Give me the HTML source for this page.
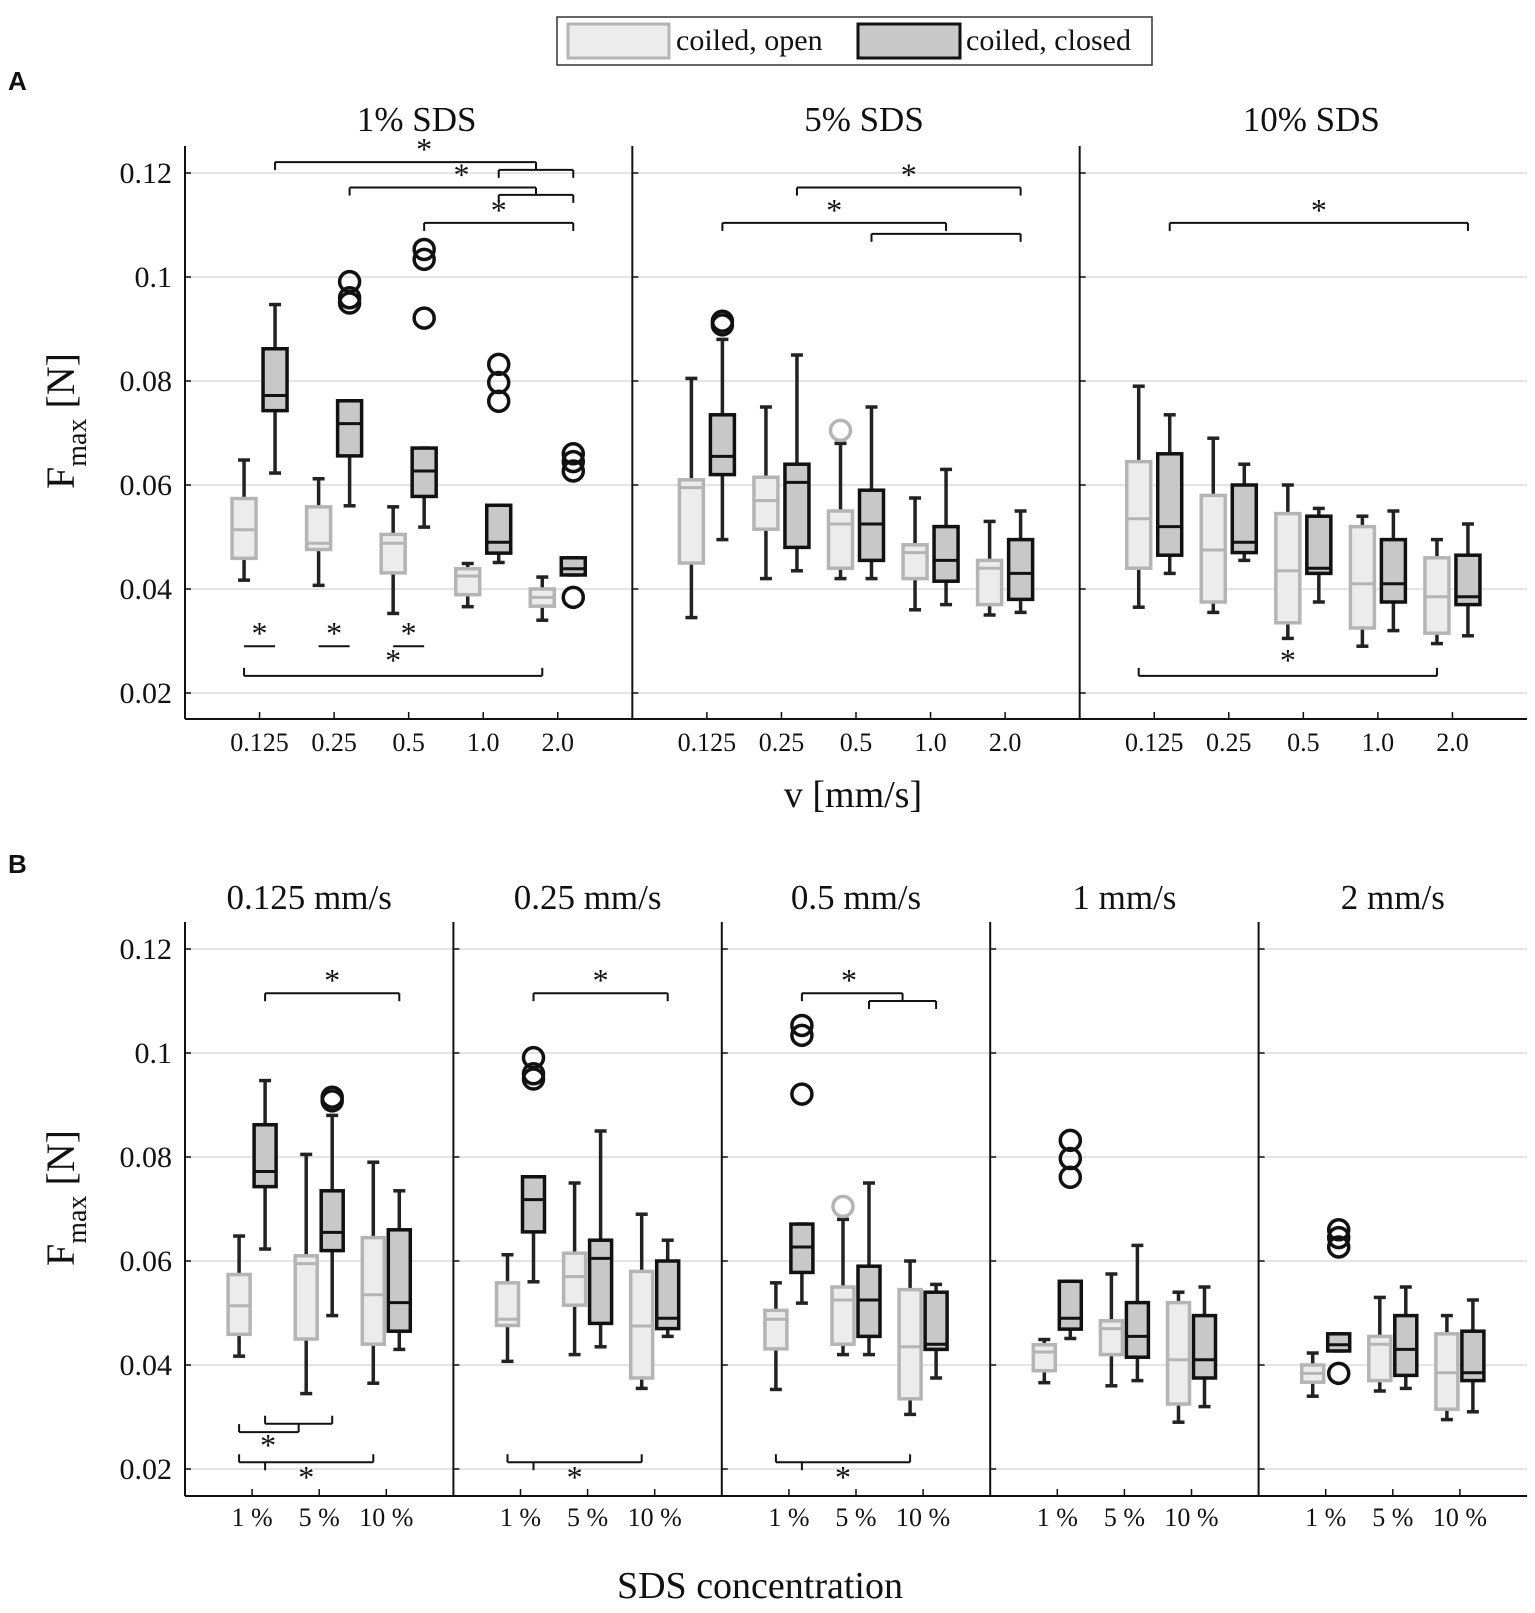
<!DOCTYPE html>
<html><head><meta charset="utf-8">
<style>
html,body{margin:0;padding:0;background:#fff;}
svg{display:block;}
text{font-family:"Liberation Serif",serif;fill:#111;}
.sans{font-family:"Liberation Sans",sans-serif;font-weight:bold;}
</style></head>
<body>
<svg id="chart" width="1535" height="1613" viewBox="0 0 1535 1613" xmlns="http://www.w3.org/2000/svg">
<g>
<rect x="557" y="17" width="595" height="48" fill="#fff" stroke="#333" stroke-width="1.5"/>
<rect x="568" y="24" width="101" height="34" fill="#ececec" stroke="#b4b4b4" stroke-width="3"/>
<text x="676" y="50" font-size="30">coiled, open</text>
<rect x="858" y="24" width="102" height="34" fill="#c8c8c8" stroke="#111" stroke-width="3"/>
<text x="966" y="50" font-size="30">coiled, closed</text>
</g>
<text class="sans" x="8" y="90" font-size="26">A</text>
<text class="sans" x="8" y="873" font-size="26">B</text>
<g id="plots"></g>
</svg>
<script>
// ---- data ----
const speeds = ["0.125","0.25","0.5","1.0","2.0"];
const sdsLevels = ["1%","5%","10%"];
const sdsTick = ["1 %","5 %","10 %"];
const speedTitles = ["0.125 mm/s","0.25 mm/s","0.5 mm/s","1 mm/s","2 mm/s"];
const yTicks = [0.02,0.04,0.06,0.08,0.1,0.12];
const yTickLabels = ["0.02","0.04","0.06","0.08","0.1","0.12"];
// stats [whiskerLow, q1, median, q3, whiskerHigh], index [sds][speed]
const openStats = [
 [[0.0417,0.0459,0.0514,0.0574,0.0648],[0.0407,0.0476,0.0488,0.0558,0.0612],[0.0353,0.0431,0.0488,0.0505,0.0558],[0.0366,0.0389,0.0425,0.0439,0.0449],[0.034,0.0367,0.0384,0.040,0.0423]],
 [[0.0345,0.045,0.0595,0.061,0.0805],[0.042,0.0515,0.057,0.0615,0.075],[0.042,0.044,0.0525,0.055,0.068],[0.036,0.042,0.047,0.0485,0.0575],[0.035,0.037,0.044,0.0455,0.053]],
 [[0.0365,0.044,0.0535,0.0645,0.079],[0.0355,0.0375,0.0475,0.058,0.069],[0.0305,0.0335,0.0435,0.0545,0.060],[0.029,0.0325,0.041,0.052,0.054],[0.0295,0.0315,0.0385,0.046,0.0495]]
];
const closedStats = [
 [[0.0623,0.0743,0.0772,0.0862,0.0947],[0.056,0.0656,0.0718,0.0762,0.0762],[0.0519,0.0578,0.0627,0.0671,0.0671],[0.0451,0.0469,0.049,0.0561,0.0561],[0.0427,0.0427,0.0439,0.046,0.046]],
 [[0.0495,0.062,0.0655,0.0735,0.088],[0.0435,0.048,0.0605,0.064,0.085],[0.042,0.0455,0.0525,0.059,0.075],[0.037,0.0415,0.0455,0.052,0.063],[0.0355,0.038,0.043,0.0495,0.055]],
 [[0.043,0.0465,0.052,0.066,0.0735],[0.0455,0.047,0.049,0.060,0.064],[0.0375,0.043,0.044,0.054,0.0555],[0.032,0.0375,0.041,0.0495,0.055],[0.031,0.037,0.0385,0.0465,0.0525]]
];
const openOutliers = [[[],[],[],[],[]],[[],[],[0.0705],[],[]],[[],[],[],[],[]]];
const closedOutliers = [
 [[],[0.0991,0.096,0.095],[0.1053,0.1034,0.0921],[0.0832,0.0797,0.0761],[0.066,0.0645,0.0627,0.0384]],
 [[0.0915,0.0908],[],[],[],[]],
 [[],[],[],[],[]]
];

// ---- geometry ----
const NS="http://www.w3.org/2000/svg";
const root=document.getElementById('plots');
const L=185,R=1527;
function yA(v){return 693-(v-0.02)*5200;}
function yB(v){return 1469-(v-0.02)*5200;}
function mk(tag,attrs,parent){const e=document.createElementNS(NS,tag);for(const k in attrs)e.setAttribute(k,attrs[k]);(parent||root).appendChild(e);return e;}
function txt(s,attrs,parent){const e=mk('text',attrs,parent);e.textContent=s;return e;}

function drawBox(g,cx,w,st,yf,closed,outs,name){
  const bg=mk('g',{},g);
  
  
  const wc='#222';
  const ln=mk('line',{x1:cx,x2:cx,y1:yf(st[0]),y2:yf(st[4]),stroke:wc,'stroke-width':3.5},bg);
  
  
  [st[0],st[4]].forEach(v=>{const c=mk('line',{x1:cx-6,x2:cx+6,y1:yf(v),y2:yf(v),stroke:wc,'stroke-width':3.5},bg);
    
    });
  const r=mk('rect',{x:cx-w/2,y:yf(st[3]),width:w,height:Math.max(1,yf(st[1])-yf(st[3])),fill:closed?'#c8c8c8':'#ececec',stroke:closed?'#111':'#b4b4b4','stroke-width':3.5},bg);
  
  
  const m=mk('line',{x1:cx-w/2,x2:cx+w/2,y1:yf(st[2]),y2:yf(st[2]),stroke:closed?'#111':'#b4b4b4','stroke-width':3},bg);
  
  
  outs.forEach(v=>{const o=mk('circle',{cx:cx,cy:yf(v),r:10,fill:'none',stroke:closed?'#111':'#b4b4b4','stroke-width':3.5},bg);
    
    });
}
function bracket(g,x1,x2,y,dir,ticks){ // dir: 1 ticks down, -1 up
  const bg=mk('g',{},g);
  
  
  mk('line',{x1:x1,x2:x2,y1:y,y2:y,stroke:'#111','stroke-width':2},bg);
  (ticks||[x1,x2]).forEach(x=>mk('line',{x1:x,x2:x,y1:y,y2:y+dir*8,stroke:'#111','stroke-width':2},bg));
}
function star(g,x,y){const s=txt('*',{x:x,y:y,'font-size':32,'text-anchor':'middle'},g);
  
  }

function axesFrame(g,yf,top,bottom,seps,tickXs,tickLabels,labY,fs){
  yTicks.forEach((v,i)=>{
    const gl=mk('line',{x1:L,x2:R,y1:yf(v),y2:yf(v),stroke:'#dcdcdc','stroke-width':1.5},g);
    
    
    const t=txt(yTickLabels[i],{x:172,y:yf(v)+10,'font-size':30,'text-anchor':'end'},g);
    
    
    seps.forEach(sx=>mk('line',{x1:sx,x2:sx+6,y1:yf(v),y2:yf(v),stroke:'#111','stroke-width':1.5},g));
  });
  const bx=mk('line',{x1:L,x2:R,y1:bottom,y2:bottom,stroke:'#111','stroke-width':2},g);
  
  
  seps.forEach(sx=>{const s=mk('line',{x1:sx,x2:sx,y1:top,y2:bottom,stroke:'#111','stroke-width':2},g);
    
    });
  tickXs.forEach((x,i)=>{
    mk('line',{x1:x,x2:x,y1:bottom,y2:bottom-7,stroke:'#111','stroke-width':1.5},g);
    const t=txt(tickLabels[i],{x:x,y:labY,'font-size':fs,'text-anchor':'middle'},g);
    
    
  });
}

// ---- Panel A ----
const gA=mk('g',{});


const wA=(R-L)/3;
const sepsA=[L,L+wA,L+2*wA];
const tickXA=[],tickLabA=[];
function cxA(s,i){return L+s*wA+wA*(i+1)/6;}
sdsLevels.forEach((s,si)=>speeds.forEach((sp,i)=>{tickXA.push(cxA(si,i));tickLabA.push(sp);}));
axesFrame(gA,yA,146,719,sepsA,tickXA,tickLabA,751,26);
sdsLevels.forEach((s,si)=>{
  const t=txt(s+' SDS',{x:L+si*wA+wA/2+8,y:131,'font-size':35,'text-anchor':'middle'},gA);
  
  
  speeds.forEach((sp,i)=>{
    const c=cxA(si,i);
    drawBox(gA,c-15.5,24,openStats[si][i],yA,false,openOutliers[si][i],'box-open-'+si+'-'+i);
    drawBox(gA,c+15.5,24,closedStats[si][i],yA,true,closedOutliers[si][i],'box-closed-'+si+'-'+i);
  });
});
const oA=(s,i)=>cxA(s,i)-15.5, cA=(s,i)=>cxA(s,i)+15.5;
bracket(gA,cA(0,0),(cA(0,3)+cA(0,4))/2,yA(0.1221),1); bracket(gA,cA(0,3),cA(0,4),yA(0.1206),1); star(gA,(cA(0,0)+cA(0,4))/2,yA(0.1221)-2);
bracket(gA,cA(0,1),(cA(0,3)+cA(0,4))/2,yA(0.1172),1); bracket(gA,cA(0,3),cA(0,4),yA(0.1158),1); star(gA,(cA(0,1)+cA(0,4))/2,yA(0.1172)-2);
bracket(gA,cA(0,2),cA(0,4),yA(0.1104),1); star(gA,(cA(0,2)+cA(0,4))/2,yA(0.1104)-2);
[0,1,2].forEach(i=>{bracket(gA,oA(0,i),cA(0,i),yA(0.029),1,[]); star(gA,cxA(0,i),yA(0.029)-2);});
bracket(gA,oA(0,0),oA(0,4),yA(0.0233),-1); star(gA,(oA(0,0)+oA(0,4))/2,yA(0.0233)-5);
bracket(gA,cA(1,1),cA(1,4),yA(0.1172),1); star(gA,(cA(1,1)+cA(1,4))/2,yA(0.1172)-2);
bracket(gA,cA(1,0),(cA(1,2)+cA(1,4))/2,yA(0.1104),1); bracket(gA,cA(1,2),cA(1,4),yA(0.1083),1); star(gA,(cA(1,0)+cA(1,3))/2,yA(0.1104)-2);
bracket(gA,cA(2,0),cA(2,4),yA(0.1104),1); star(gA,(cA(2,0)+cA(2,4))/2,yA(0.1104)-2);
bracket(gA,oA(2,0),oA(2,4),yA(0.0233),-1); star(gA,(oA(2,0)+oA(2,4))/2,yA(0.0233)-5);
const xlA=txt('v [mm/s]',{x:853,y:807,'font-size':38,'text-anchor':'middle'},gA);



// ---- Panel B ----
const gB=mk('g',{});


const wB=(R-L)/5;
const sepsB=[0,1,2,3,4].map(k=>L+k*wB);
const tickXB=[],tickLabB=[];
function cxB(p,j){return L+p*wB+wB*(j+1)/4;}
speeds.forEach((sp,p)=>sdsLevels.forEach((s,j)=>{tickXB.push(cxB(p,j));tickLabB.push(sdsTick[j]);}));
axesFrame(gB,yB,922,1496,sepsB,tickXB,tickLabB,1526,26);
speeds.forEach((sp,p)=>{
  const t=txt(speedTitles[p],{x:L+p*wB+wB/2+(p==0?-10:0),y:909,'font-size':35,'text-anchor':'middle'},gB);
  
  
  sdsLevels.forEach((s,j)=>{
    const c=cxB(p,j);
    drawBox(gB,c-13,22,openStats[j][p],yB,false,openOutliers[j][p],'box-open-'+p+'-'+j);
    drawBox(gB,c+13,22,closedStats[j][p],yB,true,closedOutliers[j][p],'box-closed-'+p+'-'+j);
  });
});
const oB=(p,j)=>cxB(p,j)-13, cB=(p,j)=>cxB(p,j)+13;
[0,1].forEach(p=>{bracket(gB,cB(p,0),cB(p,2),yB(0.1115),1); star(gB,(cB(p,0)+cB(p,2))/2,yB(0.1115)-2);});
bracket(gB,cB(2,0),(cB(2,1)+cB(2,2))/2,yB(0.1115),1); bracket(gB,cB(2,1),cB(2,2),yB(0.110),1); star(gB,(cB(2,0)+cB(2,2))/2-20,yB(0.1115)-2);
bracket(gB,cB(0,0),cB(0,1),yB(0.0287),-1);
bracket(gB,oB(0,0),(cB(0,0)+cB(0,1))/2,yB(0.0271),-1); star(gB,cxB(0,0)+16,yB(0.0271)+24);
[0,1,2].forEach(p=>{
  bracket(gB,oB(p,0),oB(p,2),yB(0.0213),-1);
  mk('line',{x1:cB(p,0),x2:cB(p,0),y1:yB(0.0213),y2:yB(0.0213)+8,stroke:'#111','stroke-width':2},gB);
  star(gB,(oB(p,0)+oB(p,2))/2,yB(0.0213)+26);
});
const xlB=txt('SDS concentration',{x:760,y:1598,'font-size':38,'text-anchor':'middle'},gB);



// y axis titles
[[421,'y-axis-title-a'],[1198,'y-axis-title-b']].forEach(([cy,nm])=>{
  const t=mk('text',{x:0,y:0,'font-size':40,'text-anchor':'middle',transform:'translate(74,'+cy+') rotate(-90)'});
  
  
  const a=document.createElementNS(NS,'tspan');a.textContent='F';t.appendChild(a);
  const b=document.createElementNS(NS,'tspan');b.setAttribute('font-size','28');b.setAttribute('dy','12');b.textContent='max';t.appendChild(b);
  const c=document.createElementNS(NS,'tspan');c.setAttribute('dy','-12');c.textContent=' [N]';t.appendChild(c);
});
</script>
</body></html>
